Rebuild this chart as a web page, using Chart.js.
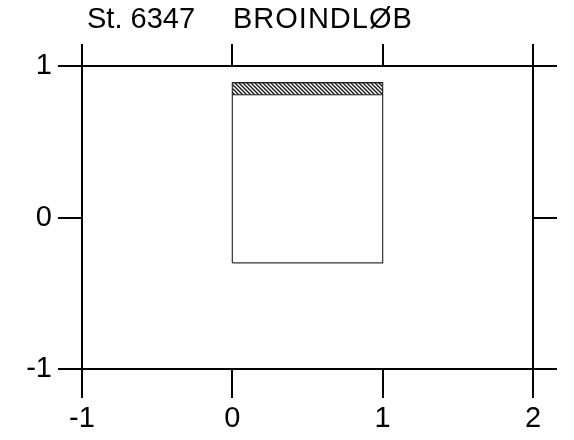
<!DOCTYPE html>
<html>
<head>
<meta charset="utf-8">
<script src="https://cdn.jsdelivr.net/npm/chart.js@4"></script>
<style>
  html, body { margin: 0; padding: 0; background: #fff; }
  #wrap { width: 574px; height: 440px; }
</style>
</head>
<body>
<div id="wrap"><canvas id="chart" width="574" height="440"></canvas></div>
<script>
/* --- Data --- */
const TITLE_STATION = 'St. 6347';
const TITLE_NAME = 'BROINDLØB';
const X_RANGE = [-1, 2];
const Y_RANGE = [-1, 1];
const BOX_X = [0, 1];          // kassens venstre/højre kant
const BOX_BOTTOM = -0.30;
const BOX_TOP = 0.89;
const HATCH_BOTTOM = 0.81;     // skraveret bånd fra HATCH_BOTTOM til BOX_TOP

const FONT = 'Liberation Sans, Arial, Helvetica, sans-serif';

/* --- Skravering (\\\) --- */
function hatchPattern(){
  const c = document.createElement('canvas');
  c.width = 4; c.height = 4;
  const g = c.getContext('2d');
  g.strokeStyle = '#111';
  g.lineWidth = 1.3;
  g.beginPath();
  g.moveTo(-1, -1); g.lineTo(5, 5);
  g.moveTo(-1, 3); g.lineTo(1, 5);
  g.moveTo(3, -1); g.lineTo(5, 1);
  g.stroke();
  return g.createPattern(c, 'repeat');
}

/* --- Titel --- */
const titlePlugin = {
  id: 'scanTitle',
  afterDraw(chart){
    const { ctx, chartArea } = chart;
    ctx.save();
    ctx.fillStyle = '#000';
    ctx.font = '29px ' + FONT;
    ctx.textBaseline = 'alphabetic';
    ctx.fillText(TITLE_STATION, chartArea.left + 5, 28);
    ctx.letterSpacing = '1px';
    ctx.fillText(TITLE_NAME, chartArea.left + 151, 28);
    ctx.restore();
  }
};

const outline = [
  { x: BOX_X[0], y: BOX_BOTTOM },
  { x: BOX_X[0], y: BOX_TOP },
  { x: BOX_X[1], y: BOX_TOP },
  { x: BOX_X[1], y: BOX_BOTTOM },
  { x: BOX_X[0], y: BOX_BOTTOM }
];

const axisGrid = len => ({
  drawOnChartArea: false,
  drawTicks: true,
  tickLength: len,
  color: '#000',
  lineWidth: 2
});
const axisBorder = { display: true, color: '#000', width: 2 };

const chart = new Chart(document.getElementById('chart'), {
  type: 'scatter',
  data: {
    datasets: [
      {
        data: BOX_X.map(x => ({ x, y: HATCH_BOTTOM })),
        showLine: true,
        borderColor: '#222',
        borderWidth: 1,
        pointRadius: 0
      },
      {
        data: BOX_X.map(x => ({ x, y: BOX_TOP })),
        showLine: true,
        borderColor: '#222',
        borderWidth: 1.2,
        pointRadius: 0,
        fill: '-1',
        backgroundColor: hatchPattern()
      },
      {
        data: outline,
        showLine: true,
        borderColor: '#333',
        borderWidth: 1.2,
        pointRadius: 0,
        fill: false
      }
    ]
  },
  options: {
    responsive: false,
    animation: false,
    devicePixelRatio: 1,
    layout: { padding: 0 },
    plugins: {
      legend: { display: false },
      tooltip: { enabled: false },
      title: { display: false }
    },
    scales: {
      x: {
        type: 'linear', position: 'bottom',
        min: X_RANGE[0], max: X_RANGE[1],
        ticks: { stepSize: 1, color: '#000', font: { family: FONT, size: 29 }, padding: 4, maxRotation: 0 },
        grid: axisGrid(29),
        border: axisBorder,
        afterFit: s => { s.height = 71; }
      },
      xTop: {
        type: 'linear', position: 'top',
        min: X_RANGE[0], max: X_RANGE[1],
        ticks: { stepSize: 1, display: false },
        grid: axisGrid(22),
        border: axisBorder,
        afterFit: s => { s.height = 66; }
      },
      y: {
        type: 'linear', position: 'left',
        min: Y_RANGE[0], max: Y_RANGE[1],
        ticks: { stepSize: 1, color: '#000', font: { family: FONT, size: 29 }, padding: 6 },
        grid: axisGrid(24),
        border: axisBorder,
        afterFit: s => { s.width = 82; }
      },
      yRight: {
        type: 'linear', position: 'right',
        min: Y_RANGE[0], max: Y_RANGE[1],
        ticks: { stepSize: 1, display: false },
        grid: axisGrid(24),
        border: axisBorder,
        afterFit: s => { s.width = 41; }
      }
    }
  },
  plugins: [titlePlugin]
});
</script>
</body>
</html>
